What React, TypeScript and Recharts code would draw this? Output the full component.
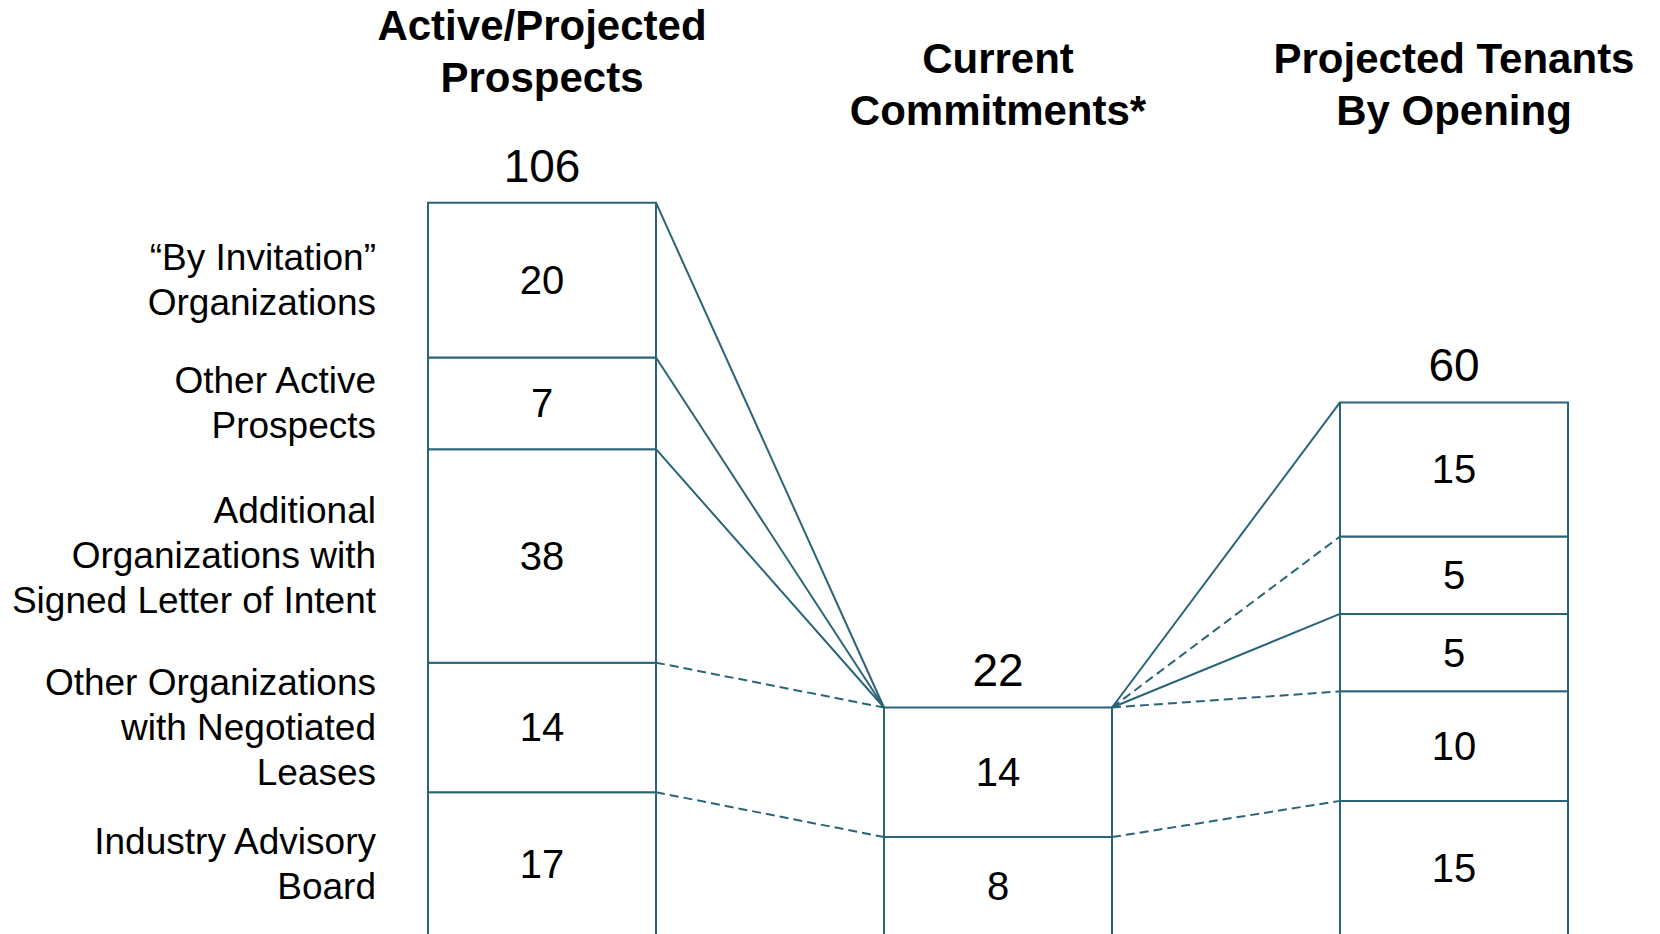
import { Bar, BarChart, LabelList, ReferenceLine, XAxis, YAxis } from 'recharts'

const teal = '#2a6478'
const font = '"Liberation Sans", Arial, Helvetica, sans-serif'

const titles = [
  ['Active/Projected', 'Prospects'],
  ['Current', 'Commitments*'],
  ['Projected Tenants', 'By Opening'],
]
const totals = [106, 22, 60]

// every column lists its segments top to bottom
const prospectLabels = [
  ['\u201CBy Invitation\u201D', 'Organizations'],
  ['Other Active', 'Prospects'],
  ['Additional', 'Organizations with', 'Signed Letter of Intent'],
  ['Other Organizations', 'with Negotiated', 'Leases'],
  ['Industry Advisory', 'Board'],
]
const prospects = [20, 7, 38, 14, 17]
const commitments = [14, 8]
const tenants = [15, 5, 5, 10, 15]

// connectors from the top edge of one segment to the top edge of another: [from, to, dashed]
const prospectLinks: [number, number, boolean][] = [
  [0, 0, false],
  [1, 0, false],
  [2, 0, false],
  [3, 0, true],
  [4, 1, true],
]
const tenantLinks: [number, number, boolean][] = [
  [0, 0, false],
  [0, 1, true],
  [0, 2, false],
  [0, 3, true],
  [1, 4, true],
]

// box heights in the original diagram grow with the square root of the count
const box = (v: number) => Math.sqrt(v)

const stacks = [prospects, commitments, tenants]
// bars sit in bands 0, 2, 4; bands 1 and 3 are the gaps the connectors cross
const slots = ['prospects', 'gap1', 'commitments', 'gap2', 'tenants']
const rows: Record<string, any>[] = slots.map((name) => ({ name }))

type Seg = { key: string; col: number; seg: number; value: number }
const series: Seg[] = []
stacks.forEach((values, col) => {
  for (let seg = values.length - 1; seg >= 0; seg--) {
    const key = `c${col}s${seg}`
    rows[col * 2][key] = box(values[seg])
    series.push({ key, col, seg, value: values[seg] })
  }
})

// stacked height at the top edge of a segment
const edge = (values: number[], seg: number) =>
  values.slice(seg).reduce((a, v) => a + box(v), 0)

const W = 1660
const H = 935
const Y_MAX = 27
const TITLE_Y = 110

const renderLabel = (s: Seg) => (p: any) => {
  if (p.value == null) return null
  const vb = p.viewBox ?? p
  const x = Number(vb.x)
  const width = Number(vb.width)
  const h = Number(vb.height)
  if (!(Math.abs(h) > 0)) return null
  const top = h < 0 ? Number(vb.y) + h : Number(vb.y)
  const height = Math.abs(h)
  const cx = x + width / 2
  const cy = top + height / 2
  const out = [
    <text
      key="v"
      x={cx}
      y={cy}
      textAnchor="middle"
      dominantBaseline="central"
      fontFamily={font}
      fontSize={40}
      fill="#000"
    >
      {s.value}
    </text>,
  ]
  if (s.col === 0) {
    const lines = prospectLabels[s.seg]
    lines.forEach((line, j) => {
      out.push(
        <text
          key={`c${j}`}
          x={x - 52}
          y={cy + (j - (lines.length - 1) / 2) * 45}
          textAnchor="end"
          dominantBaseline="central"
          fontFamily={font}
          fontSize={37}
          fill="#000"
        >
          {line}
        </text>,
      )
    })
  }
  if (s.seg === 0) {
    const totalY = top - 37
    const titleY = Math.min(TITLE_Y, totalY - 88)
    out.push(
      <text
        key="t"
        x={cx}
        y={totalY}
        textAnchor="middle"
        dominantBaseline="central"
        fontFamily={font}
        fontSize={46}
        fill="#000"
      >
        {totals[s.col]}
      </text>,
    )
    const lines = titles[s.col]
    lines.forEach((line, j) => {
      out.push(
        <text
          key={`h${j}`}
          x={cx}
          y={titleY - (lines.length - 1 - j) * 52}
          textAnchor="middle"
          dominantBaseline="central"
          fontFamily={font}
          fontSize={42}
          fontWeight="bold"
          fill="#000"
        >
          {line}
        </text>,
      )
    })
  }
  return <g>{out}</g>
}

// a connector runs across a gap band: from the gap's start (right edge of the
// bar before it) to the start of the next bar's band (its left edge)
const connector = (
  key: string,
  gap: string,
  next: string,
  y1: number,
  y2: number,
  dashed: boolean,
) => (
  <ReferenceLine
    key={key}
    segment={[
      { x: gap, y: y1 },
      { x: next, y: y2 },
    ]}
    position="start"
    stroke={teal}
    strokeWidth={2}
    strokeDasharray={dashed ? '9 5' : undefined}
  />
)

export default function App() {
  return (
    <div
      style={{
        position: 'absolute',
        left: 0,
        top: 0,
        width: W,
        height: 934,
        overflow: 'hidden',
        background: '#fff',
      }}
    >
      <BarChart
        width={W}
        height={H}
        data={rows}
        margin={{ top: 0, right: 92, bottom: 0, left: 428 }}
        barCategoryGap={0}
      >
        <XAxis dataKey="name" hide />
        <YAxis hide domain={[0, Y_MAX]} />
        {series.map((s) => (
          <Bar
            key={s.key}
            dataKey={s.key}
            stackId="a"
            fill="#fff"
            stroke={teal}
            strokeWidth={2}
            isAnimationActive={false}
          >
            <LabelList dataKey={s.key} content={renderLabel(s)} />
          </Bar>
        ))}
        {prospectLinks.map(([a, b, dashed], i) =>
          connector(`pl${i}`, 'gap1', 'commitments', edge(prospects, a), edge(commitments, b), dashed),
        )}
        {tenantLinks.map(([a, b, dashed], i) =>
          connector(`tl${i}`, 'gap2', 'tenants', edge(commitments, a), edge(tenants, b), dashed),
        )}
      </BarChart>
    </div>
  )
}
